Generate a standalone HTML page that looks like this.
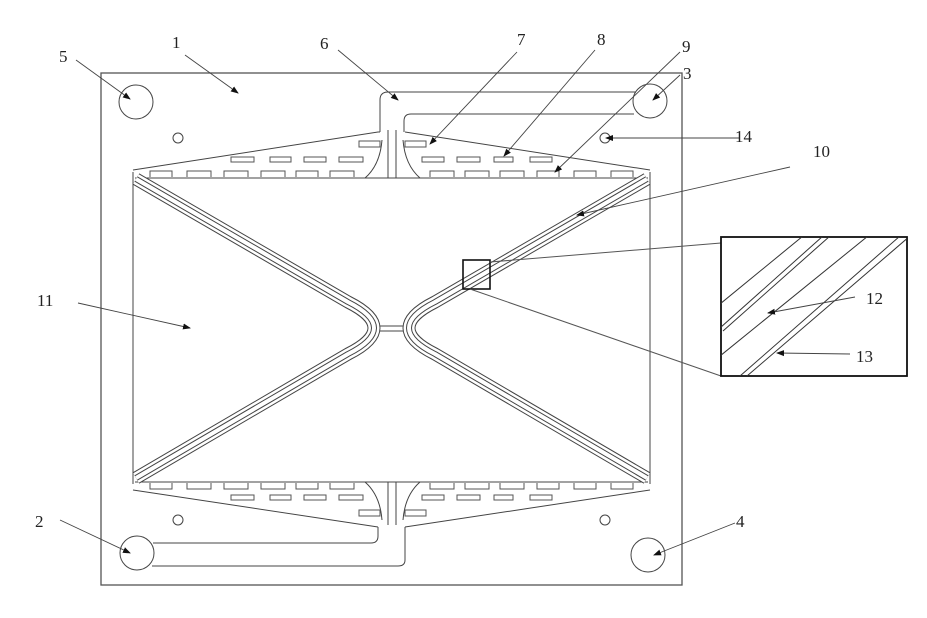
<!DOCTYPE html>
<html><head><meta charset="utf-8"><style>
html,body{margin:0;padding:0;background:#fff;}
svg{display:block;}
text{font-family:"Liberation Serif",serif;font-size:17px;fill:#222;}
</style></head><body>
<svg width="927" height="618" viewBox="0 0 927 618" xmlns="http://www.w3.org/2000/svg">
<defs>
<marker id="ar" markerWidth="8" markerHeight="8" refX="7" refY="4" orient="auto" markerUnits="userSpaceOnUse">
<path d="M0,1 L8,4 L0,7 Z" fill="#111"/></marker>
<clipPath id="ins"><rect x="721" y="237" width="186" height="139"/></clipPath>
</defs>
<g fill="none" stroke="#444" stroke-width="1">
<rect x="101" y="73" width="581" height="512" stroke="#555" stroke-width="1.3"/>
<circle cx="136" cy="102" r="17"/>
<circle cx="650" cy="101" r="17"/>
<circle cx="137" cy="553" r="17"/>
<circle cx="648" cy="555" r="17"/>
<circle cx="178" cy="138" r="5"/>
<circle cx="605" cy="138" r="5"/>
<circle cx="178" cy="520" r="5"/>
<circle cx="605" cy="520" r="5"/>
<line x1="133" y1="172" x2="133" y2="484"/>
<line x1="650" y1="172" x2="650" y2="484"/>
<line x1="135" y1="178" x2="648" y2="178"/>
<line x1="135" y1="482" x2="648" y2="482"/>
<polyline points="133,170 378,132 380,132"/>
<polyline points="405,132 650,170"/>
<path d="M380,132 L380,100 Q380,92 388,92 L636,92"/>
<path d="M404,132 L404,121 Q404,114 411,114 L634,114"/>
<line x1="388" y1="130" x2="388" y2="178"/>
<line x1="396" y1="130" x2="396" y2="178"/>
<path d="M382,140 Q380,165 365,178"/>
<path d="M403,140 Q405,165 420,178"/>
<polyline points="133,490 378,527"/>
<polyline points="405,527 650,490"/>
<path d="M378,527 L378,536 Q378,543 371,543 L153,543"/>
<path d="M405,527 L405,560 Q405,566 398,566 L152,566"/>
<line x1="388" y1="482" x2="388" y2="525"/>
<line x1="396" y1="482" x2="396" y2="525"/>
<path d="M365,482 Q380,495 382,520"/>
<path d="M420,482 Q405,495 403,520"/>
</g>
<g fill="none" stroke="#555" stroke-width="1">
<path d="M150,177V171h22v6 M187,177V171h24v6 M224,177V171h24v6 M261,177V171h24v6 M296,177V171h22v6 M330,177V171h24v6 M430,177V171h24v6 M465,177V171h24v6 M500,177V171h24v6 M537,177V171h22v6 M574,177V171h22v6 M611,177V171h22v6"/>
<rect x="231" y="157" width="23" height="5"/><rect x="270" y="157" width="21" height="5"/><rect x="304" y="157" width="22" height="5"/><rect x="339" y="157" width="24" height="5"/>
<rect x="422" y="157" width="22" height="5"/><rect x="457" y="157" width="23" height="5"/><rect x="494" y="157" width="19" height="5"/><rect x="530" y="157" width="22" height="5"/>
<rect x="359" y="141" width="21" height="6"/><rect x="405" y="141" width="21" height="6"/>
<path d="M150,483V489h22v-6 M187,483V489h24v-6 M224,483V489h24v-6 M261,483V489h24v-6 M296,483V489h22v-6 M330,483V489h24v-6 M430,483V489h24v-6 M465,483V489h24v-6 M500,483V489h24v-6 M537,483V489h22v-6 M574,483V489h22v-6 M611,483V489h22v-6"/>
<rect x="231" y="495" width="23" height="5"/><rect x="270" y="495" width="21" height="5"/><rect x="304" y="495" width="22" height="5"/><rect x="339" y="495" width="24" height="5"/>
<rect x="422" y="495" width="22" height="5"/><rect x="457" y="495" width="23" height="5"/><rect x="494" y="495" width="19" height="5"/><rect x="530" y="495" width="22" height="5"/>
<rect x="359" y="510" width="21" height="6"/><rect x="405" y="510" width="21" height="6"/>
</g>
<g fill="none" stroke-linejoin="round">
<path d="M136,179 L348,302 Q400,328 348,354 L136,478" stroke="#444" stroke-width="13"/>
<path d="M136,179 L348,302 Q400,328 348,354 L136,478" stroke="#fff" stroke-width="11"/>
<path d="M136,179 L348,302 Q400,328 348,354 L136,478" stroke="#444" stroke-width="6"/>
<path d="M136,179 L348,302 Q400,328 348,354 L136,478" stroke="#fff" stroke-width="4"/>
<path d="M647,179 L435,302 Q383,328 435,354 L647,478" stroke="#444" stroke-width="13"/>
<path d="M647,179 L435,302 Q383,328 435,354 L647,478" stroke="#fff" stroke-width="11"/>
<path d="M647,179 L435,302 Q383,328 435,354 L647,478" stroke="#444" stroke-width="6"/>
<path d="M647,179 L435,302 Q383,328 435,354 L647,478" stroke="#fff" stroke-width="4"/>
<line x1="380" y1="326" x2="403" y2="326" stroke="#444"/>
<line x1="380" y1="331" x2="403" y2="331" stroke="#444"/>
</g>
<rect x="463" y="260" width="27" height="29" fill="none" stroke="#111" stroke-width="1.6"/>
<line x1="490" y1="262" x2="721" y2="243" stroke="#555"/>
<line x1="470" y1="289" x2="721" y2="376" stroke="#555"/>
<rect x="721" y="237" width="186" height="139" fill="#fff" stroke="#111" stroke-width="1.8"/>
<g clip-path="url(#ins)" stroke="#333" stroke-width="1">
<line x1="720" y1="304" x2="803" y2="236"/>
<line x1="720" y1="328" x2="823" y2="236"/>
<line x1="723" y1="331" x2="830" y2="236"/>
<line x1="720" y1="356" x2="868" y2="236"/>
<line x1="740" y1="376" x2="900" y2="236"/>
<line x1="747" y1="376" x2="910" y2="236"/>
</g>
<g stroke="#444" stroke-width="0.9" fill="none" marker-end="url(#ar)">
<line x1="185" y1="55" x2="238" y2="93"/>
<line x1="76" y1="60" x2="130" y2="99"/>
<line x1="338" y1="50" x2="398" y2="100"/>
<line x1="517" y1="52" x2="430" y2="144"/>
<line x1="595" y1="50" x2="504" y2="156"/>
<line x1="680" y1="52" x2="555" y2="172"/>
<line x1="680" y1="75" x2="653" y2="100"/>
<line x1="740" y1="138" x2="606" y2="138"/>
<line x1="790" y1="167" x2="577" y2="215"/>
<line x1="78" y1="303" x2="190" y2="328"/>
<line x1="855" y1="297" x2="768" y2="313"/>
<line x1="850" y1="354" x2="777" y2="353"/>
<line x1="60" y1="520" x2="130" y2="553"/>
<line x1="735" y1="523" x2="654" y2="555"/>
</g>
<text x="172" y="48">1</text>
<text x="59" y="62">5</text>
<text x="320" y="49">6</text>
<text x="517" y="45">7</text>
<text x="597" y="45">8</text>
<text x="682" y="52">9</text>
<text x="683" y="79">3</text>
<text x="735" y="142">14</text>
<text x="813" y="157">10</text>
<text x="37" y="306">11</text>
<text x="866" y="304">12</text>
<text x="856" y="362">13</text>
<text x="35" y="527">2</text>
<text x="736" y="527">4</text>
</svg>
</body></html>
